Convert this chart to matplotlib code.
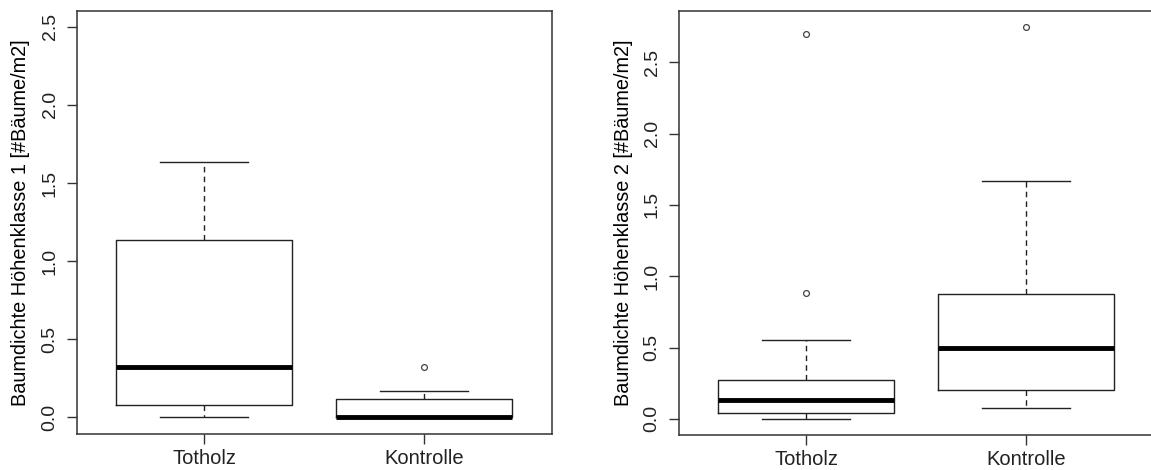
import matplotlib.pyplot as plt

plt.rcParams['font.family'] = ['Liberation Sans', 'DejaVu Sans']

groups = ["Totholz", "Kontrolle"]

# Höhenklasse 1
hk1_whislo = [0.0, 0.0]
hk1_q1 = [0.079, 0.0]
hk1_med = [0.324, 0.0]
hk1_q3 = [1.132, 0.115]
hk1_whishi = [1.637, 0.167]
hk1_fliers = [[], [0.324]]

# Höhenklasse 2
hk2_whislo = [0.0, 0.077]
hk2_q1 = [0.038, 0.201]
hk2_med = [0.131, 0.496]
hk2_q3 = [0.274, 0.875]
hk2_whishi = [0.550, 1.668]
hk2_fliers = [[0.880, 2.70], [2.749]]

yticks = [0.0, 0.5, 1.0, 1.5, 2.0, 2.5]


def make_stats(whislo, q1, med, q3, whishi, fliers):
    return [dict(label=g, whislo=a, q1=b, med=c, q3=d, whishi=e, fliers=f)
            for g, a, b, c, d, e, f in zip(groups, whislo, q1, med, q3, whishi, fliers)]


def draw_panel(ax, stats, ylim, ylabel):
    ax.bxp(stats, widths=0.8, capwidths=0.4, showfliers=True,
           boxprops=dict(color='#222222', lw=1.0),
           whiskerprops=dict(color='#222222', lw=1.0, linestyle=(0, (4, 3))),
           capprops=dict(color='#222222', lw=1.0),
           medianprops=dict(color='black', lw=3.5),
           flierprops=dict(marker='o', markerfacecolor='none',
                           markeredgecolor='#444444', markersize=4.2, markeredgewidth=0.9))
    ax.set_xlim(0.42, 2.58)
    ax.set_ylim(*ylim)
    ax.set_yticks(yticks)
    ax.set_yticklabels([f"{t:.1f}" for t in yticks], rotation=90, va='center')
    ax.set_ylabel(ylabel, fontsize=14.3, labelpad=8)
    ax.tick_params(axis='both', length=7, width=1, color='#333333', labelcolor='#222222')
    ax.tick_params(axis='y', pad=6, labelsize=14)
    ax.tick_params(axis='x', pad=4, labelsize=14.5)
    for sp in ax.spines.values():
        sp.set_color('#333333')
        sp.set_linewidth(1.1)


fig = plt.figure(figsize=(11.51, 4.70), dpi=100)
ax1 = fig.add_axes([0.0666, 0.0766, 0.4127, 0.9])
ax2 = fig.add_axes([0.5897, 0.0745, 0.4123, 0.9028])

draw_panel(ax1, make_stats(hk1_whislo, hk1_q1, hk1_med, hk1_q3, hk1_whishi, hk1_fliers),
           (-0.106, 2.6), "Baumdichte Höhenklasse 1 [#Bäume/m2]")
draw_panel(ax2, make_stats(hk2_whislo, hk2_q1, hk2_med, hk2_q3, hk2_whishi, hk2_fliers),
           (-0.113, 2.862), "Baumdichte Höhenklasse 2 [#Bäume/m2]")

fig.savefig("out.png", dpi=100)
